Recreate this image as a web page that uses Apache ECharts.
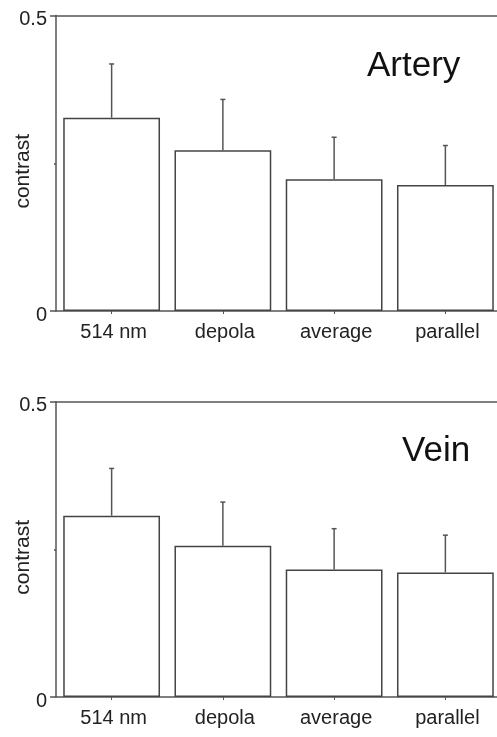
<!DOCTYPE html>
<html><head><meta charset="utf-8">
<script src="https://cdn.jsdelivr.net/npm/echarts@6/dist/echarts.min.js"></script>
<style>html,body{margin:0;padding:0;background:#fff}#c{width:497px;height:737px}</style>
</head><body><div id="c"></div>
<script>
var categories = ['514 nm', 'depola', 'average', 'parallel'];
var arteryMean = [0.327, 0.272, 0.223, 0.213];
var arteryErrTop = [0.418, 0.358, 0.294, 0.280];
var veinMean = [0.307, 0.256, 0.216, 0.211];
var veinErrTop = [0.387, 0.330, 0.285, 0.274];
var panelTitles = ['Artery', 'Vein'];
var yTicks = [0, 0.25, 0.5];

var FONT = '"Liberation Sans", Arial, sans-serif';
var AX = '#555';
var chart = echarts.init(document.getElementById('c'));

var grids = [
  {left: 56, top: 15.5, width: 445, height: 295.5, outerBoundsMode: 'none', containLabel: false},
  {left: 56, top: 401.7, width: 445, height: 295.3, outerBoundsMode: 'none', containLabel: false}
];

function xAxes(gi) {
  return [{
    type: 'category', gridIndex: gi, data: categories,
    axisLine: {lineStyle: {color: AX, width: 1.5}},
    axisTick: {show: true, alignWithLabel: true, length: 3, lineStyle: {color: AX}},
    axisLabel: {color: '#222', fontFamily: FONT, fontSize: 20, margin: 11, padding: [0, 0, 0, 4]}
  }, {
    type: 'category', gridIndex: gi, data: categories, position: 'top',
    axisLine: {show: true, lineStyle: {color: AX, width: 1.5}},
    axisTick: {show: false}, axisLabel: {show: false}
  }];
}
function yAxis(gi) {
  return {
    type: 'value', gridIndex: gi, min: yTicks[0], max: yTicks[2], interval: yTicks[2],
    name: 'contrast', nameLocation: 'middle', nameRotate: 90, nameGap: 22,
    nameMoveOverlap: false,
    nameTextStyle: {color: '#222', fontFamily: FONT, fontSize: 21, verticalAlign: 'bottom',
      padding: [0, 16, 0, 0]},
    axisLine: {show: true, lineStyle: {color: AX, width: 1.5}},
    axisTick: {show: true, length: 6, lineStyle: {color: AX, width: 1.5}},
    minorTick: {show: true, splitNumber: 2, length: 2, lineStyle: {color: AX, width: 1.5}},
    splitLine: {show: false},
    axisLabel: {color: '#222', fontFamily: FONT, fontSize: 20, margin: 9,
      verticalAlign: 'top', lineHeight: 8,
      formatter: function (v) { return String(v); }}
  };
}

function errSeries(gi, tops, means) {
  return {
    type: 'custom', xAxisIndex: gi * 2, yAxisIndex: gi, z: 5,
    data: categories.map(function (c, i) { return [i, means[i], tops[i]]; }),
    renderItem: function (params, api) {
      var p0 = api.coord([api.value(0), api.value(1)]);
      var p1 = api.coord([api.value(0), api.value(2)]);
      var st = {stroke: AX, lineWidth: 1.5};
      return {type: 'group', children: [
        {type: 'line', shape: {x1: p0[0], y1: p0[1], x2: p1[0], y2: p1[1]}, style: st},
        {type: 'line', shape: {x1: p1[0] - 2.5, y1: p1[1], x2: p1[0] + 2.5, y2: p1[1]}, style: st}
      ]};
    }
  };
}
function barSeries(gi, vals) {
  return {
    type: 'bar', xAxisIndex: gi * 2, yAxisIndex: gi, data: vals,
    barCategoryGap: '13%',
    itemStyle: {color: '#fff', borderColor: '#444', borderWidth: 1.5},
    silent: true
  };
}

chart.setOption({
  animation: false,
  grid: grids,
  xAxis: xAxes(0).concat(xAxes(1)),
  yAxis: [yAxis(0), yAxis(1)],
  title: [
    {text: panelTitles[0], left: 362, top: 44, textStyle: {fontFamily: FONT, fontSize: 35, fontWeight: 'normal', color: '#111'}},
    {text: panelTitles[1], left: 397, top: 429, textStyle: {fontFamily: FONT, fontSize: 35, fontWeight: 'normal', color: '#111'}}
  ],
  series: [
    barSeries(0, arteryMean), errSeries(0, arteryErrTop, arteryMean),
    barSeries(1, veinMean), errSeries(1, veinErrTop, veinMean)
  ]
});
</script></body></html>
